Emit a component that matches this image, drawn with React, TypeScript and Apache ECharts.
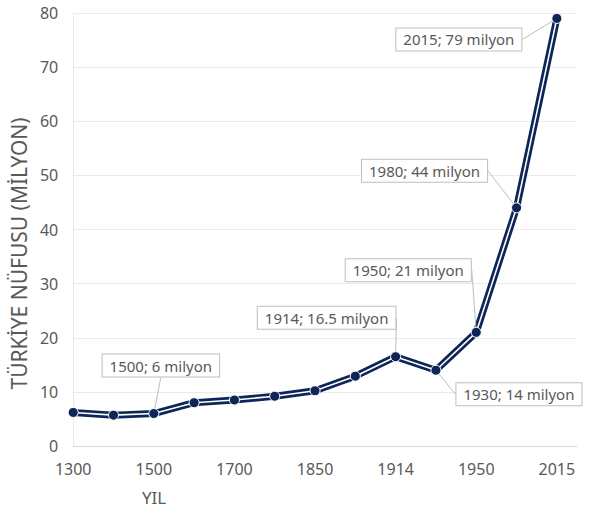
import React, { useEffect, useRef } from 'react';
import * as echarts from 'echarts';

// yıllar ve nüfus (milyon)
const years = ['1300', '1400', '1500', '1600', '1700', '1800', '1850', '1900', '1914', '1930', '1950', '1980', '2015'];
const population = [6.2, 5.7, 6, 8, 8.5, 9.2, 10.2, 12.9, 16.5, 14, 21, 44, 79];
const calloutTexts: Record<number, string> = {
  2: '1500; 6 milyon',
  8: '1914; 16.5 milyon',
  9: '1930; 14 milyon',
  10: '1950; 21 milyon',
  11: '1980; 44 milyon',
  12: '2015; 79 milyon',
};
// etiket kutularının noktaya göre kaydırması
const calloutOffsets: Record<number, [number, number]> = {
  2: [7, -48],
  8: [-69, -39],
  9: [83, 24],
  10: [-68, -62],
  11: [-92, -37],
  12: [-98, 21],
};

const NAVY = '#0d2657';
const GREY_TEXT = '#595959';
const FONT = 'Noto Sans';

const App: React.FC = () => {
  const chartRef = useRef<HTMLDivElement>(null);

  useEffect(() => {
    document.body.style.margin = '0';
    if (!chartRef.current) return;
    const chart = echarts.init(chartRef.current, undefined, { renderer: 'svg' });

    // x ekseni: sıra numarası, etiketler years dizisinden
    const points = population.map((v, i) => ({
      value: [i, v],
      label: calloutTexts[i] ? { show: true, formatter: calloutTexts[i] } : { show: false },
    }));

    const option: echarts.EChartsOption = {
      animation: false,
      backgroundColor: '#ffffff',
      grid: { left: 65, right: 16, top: 13, bottom: 74 },
      xAxis: {
        type: 'value',
        min: 0,
        max: years.length - 0.5,
        interval: 2,
        name: 'YIL',
        nameLocation: 'middle',
        nameGap: 43,
        nameTextStyle: { color: GREY_TEXT, fontSize: 17, fontFamily: FONT, padding: [0, 342, 0, 0] },
        axisLine: { lineStyle: { color: '#d9d9d9' } },
        axisTick: { show: false },
        axisLabel: {
          color: GREY_TEXT,
          fontSize: 16,
          fontFamily: FONT,
          margin: 15,
          formatter: (v: number) => (Number.isInteger(v) && years[v] ? years[v] : ''),
        },
        splitLine: { show: false },
      },
      yAxis: {
        type: 'value',
        min: 0,
        max: 80,
        interval: 10,
        name: 'TÜRKİYE NÜFUSU (MİLYON)',
        nameLocation: 'middle',
        nameGap: 42,
        nameRotate: 90,
        nameTextStyle: { color: GREY_TEXT, fontSize: 21, fontFamily: FONT, padding: [0, 48, 0, 0] },
        axisLine: { show: true, lineStyle: { color: '#ebebeb' } },
        axisTick: { show: false },
        axisLabel: { color: GREY_TEXT, fontSize: 16, fontFamily: FONT, margin: 15 },
        splitLine: { lineStyle: { color: '#ebebeb' } },
      },
      series: [
        {
          type: 'line',
          data: population.map((v, i) => [i, v]),
          symbol: 'none',
          silent: true,
          lineStyle: { color: NAVY, width: 7 },
          z: 2,
        },
        {
          type: 'line',
          data: points,
          symbol: 'circle',
          symbolSize: 10,
          itemStyle: { color: NAVY, borderColor: '#ffffff', borderWidth: 1 },
          lineStyle: { color: '#ffffff', width: 1.6 },
          z: 3,
          label: {
            position: 'inside',
            color: GREY_TEXT,
            fontSize: 15,
            fontFamily: FONT,
            backgroundColor: '#ffffff',
            borderColor: '#bfbfbf',
            borderWidth: 1,
            padding: [4, 7, 3, 7],
          },
          labelLine: { show: true, lineStyle: { color: '#bfbfbf', width: 1 } },
          labelLayout: (params: any) => {
            const off = calloutOffsets[params.dataIndex];
            if (!off) return {};
            return { dx: off[0], dy: off[1] };
          },
        },
      ],
    };

    chart.setOption(option);
    return () => {
      chart.dispose();
    };
  }, []);

  return <div ref={chartRef} style={{ width: 593, height: 520 }} />;
};

export default App;
